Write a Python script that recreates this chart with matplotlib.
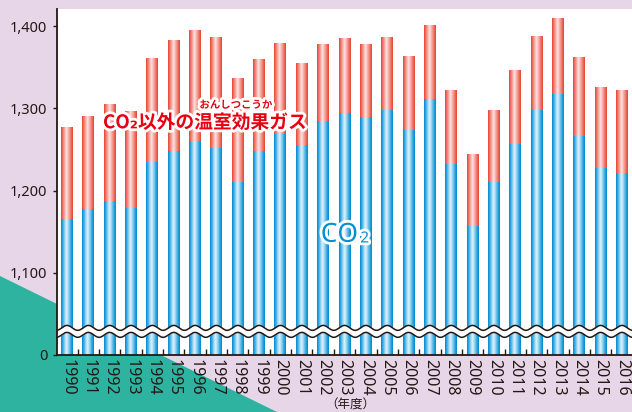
import numpy as np
import matplotlib
matplotlib.use("Agg")
import matplotlib.pyplot as plt
import matplotlib.patheffects as pe
from matplotlib.colors import LinearSegmentedColormap
from matplotlib.patches import Polygon

plt.rcParams['font.family'] = ['Noto Sans', 'Noto Sans CJK JP', 'DejaVu Sans']

# GHG emissions (million t CO2 eq.)
years = list(range(1990, 2017))
co2 = [1166, 1178, 1187, 1179, 1235, 1248, 1260, 1252, 1211, 1248, 1269, 1255, 1285, 1294,
       1290, 1298, 1274, 1312, 1233, 1157, 1210, 1257, 1298, 1317, 1266, 1227, 1222]
total = [1277, 1291, 1304, 1296, 1361, 1382, 1394, 1387, 1337, 1359, 1379, 1354, 1378, 1385,
         1378, 1386, 1364, 1402, 1322, 1244, 1297, 1346, 1388, 1409, 1361, 1325, 1322]
others = [t - c for t, c in zip(total, co2)]

yticks = [1000, 1100, 1200, 1300, 1400]
ytick_labels = ["0", "1,100", "1,200", "1,300", "1,400"]
year_labels = [str(y) for y in years]

ink = "#231815"
blue_cmap = LinearSegmentedColormap.from_list(
    "blue", [(0, "#0088d0"), (0.12, "#2aa2e0"), (0.3, "#8fd0f2"), (0.45, "#e0f3fc"),
             (0.6, "#a8dbf5"), (0.85, "#2aa2e0"), (1, "#0088d0")])
red_cmap = LinearSegmentedColormap.from_list(
    "red", [(0, "#e6432f"), (0.12, "#ee6e5c"), (0.3, "#f6a9a0"), (0.45, "#fde4e6"),
            (0.6, "#f8bcb6"), (0.85, "#ee6e5c"), (1, "#e6432f")])

fig = plt.figure(figsize=(6.32, 4.12), dpi=100)
fig.patch.set_facecolor("#e7d6e8")
fig.patches.append(Polygon([(0, 0.330), (0, 0), (0.438, 0)], closed=True,
                           transform=fig.transFigure, facecolor="#2db3a0",
                           edgecolor="none", zorder=-1))

ax = fig.add_axes([57 / 632, 57 / 412, 575 / 632, 346 / 412])
ax.set_facecolor("white")
ymin, ymax = 1000, 1421

grad = np.linspace(0, 1, 64).reshape(1, -1)
width = 0.56
bars_co2 = ax.bar(years, co2, width, color="none", edgecolor="none")
bars_oth = ax.bar(years, others, width, bottom=co2, color="none", edgecolor="none")
for bars, cmap in [(bars_co2, blue_cmap), (bars_oth, red_cmap)]:
    for p in bars:
        bb = p.get_bbox()
        ax.imshow(grad, cmap=cmap, aspect="auto", interpolation="bilinear",
                  extent=[bb.x0, bb.x1, max(bb.y0, ymin), bb.y1], zorder=2)

# axis break (wavy)
xs = np.linspace(years[0] - 0.6, years[-1] + 0.6, 1200)
wave = 3.0 * np.cos(2 * np.pi * (xs - years[0]))
lo, hi = 1024.5 + wave, 1033.0 + wave
ax.fill_between(xs, lo, hi, color="white", zorder=4, linewidth=0)
ax.plot(xs, lo, color=ink, lw=1.1, zorder=5)
ax.plot(xs, hi, color=ink, lw=1.1, zorder=5)

ax.set_xlim(years[0] - 0.47, years[-1] + 0.47)
ax.set_ylim(ymin, ymax)
ax.set_yticks(yticks)
ax.set_yticklabels(ytick_labels)
ax.set_xticks(years)
ax.set_xticklabels(year_labels, rotation=-90)
ax.set_xticks([y + 0.5 for y in years[:-1]], minor=True)
ax.tick_params(axis="x", which="major", length=0, pad=3, labelsize=11.5, labelcolor=ink)
ax.tick_params(axis="x", which="minor", direction="in", length=4, width=1, color=ink)
ax.tick_params(axis="y", direction="out", length=3, width=1, pad=4, labelsize=10.5,
               labelcolor=ink, color=ink)
for s in ["top", "right"]:
    ax.spines[s].set_visible(False)
for s in ["left", "bottom"]:
    ax.spines[s].set_color(ink)
    ax.spines[s].set_linewidth(1.3)
    ax.spines[s].set_zorder(6)

outline = [pe.withStroke(linewidth=4, foreground="white")]
fig.text(0.324, 0.702, "CO₂以外の温室効果ガス", color="#e60012", fontsize=13.5,
         fontweight="bold", ha="center", va="center",
         family=["Noto Sans CJK JP", "DejaVu Sans"], path_effects=outline)
fig.text(0.373, 0.745, "おんしつこうか", color="#e60012", fontsize=7.5,
         fontweight="bold", ha="center", va="center",
         family=["Noto Sans CJK JP", "DejaVu Sans"], path_effects=outline)
fig.text(0.537, 0.430, "CO", color="#0090d6", fontsize=19, fontweight="heavy",
         ha="center", va="center", path_effects=outline)
fig.text(0.577, 0.420, "2", color="#0090d6", fontsize=11, fontweight="heavy",
         ha="center", va="center", path_effects=outline)
fig.text(0.554, 0.016, "（年度）", color=ink, fontsize=9, ha="center", va="center",
         family=["Noto Sans CJK JP", "DejaVu Sans"])

fig.savefig("out.png", dpi=100, facecolor=fig.get_facecolor())
